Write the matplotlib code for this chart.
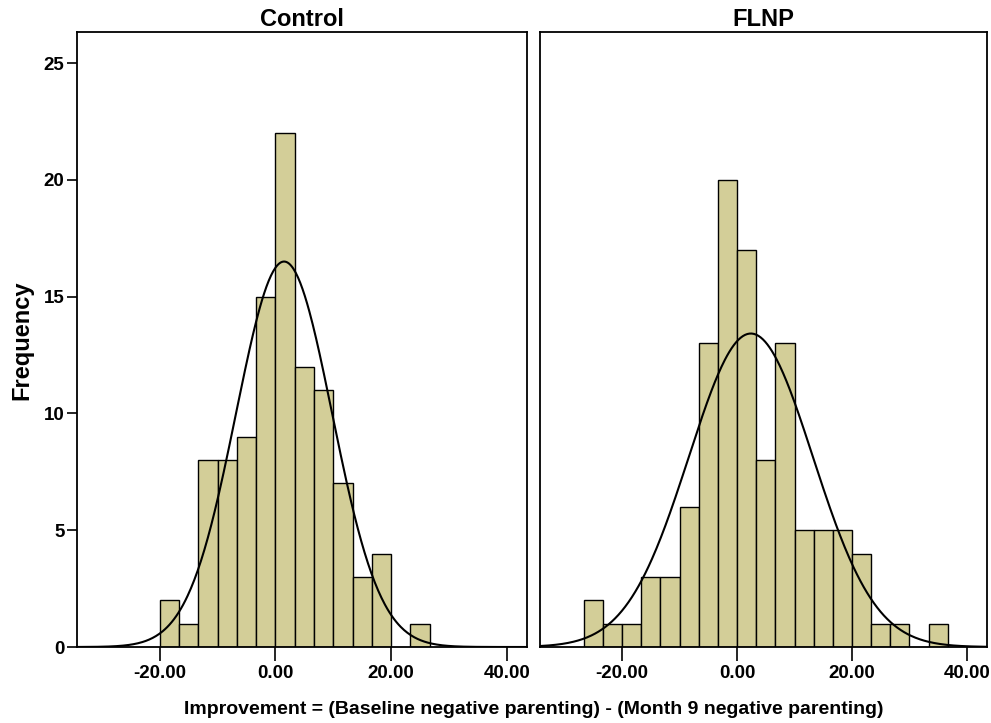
import numpy as np
import matplotlib
matplotlib.use("Agg")
import matplotlib.pyplot as plt

plt.rcParams['font.family'] = ['Liberation Sans', 'DejaVu Sans']
plt.rcParams['font.weight'] = 'bold'

bin_width = 10.0 / 3

# Control group: first bin edge and counts per bin
control_start = -20.0
control_counts = [2, 1, 8, 8, 9, 15, 22, 12, 11, 7, 3, 4, 0, 1]
control_mean = 1.5
control_sd = 8.3

# FLNP group
flnp_start = -80.0 / 3
flnp_counts = [2, 1, 1, 3, 3, 6, 13, 20, 17, 8, 13, 5, 5, 5, 4, 1, 1, 0, 1]
flnp_mean = 2.4
flnp_sd = 10.8

titles = ["Control", "FLNP"]
xticks = [-20, 0, 20, 40]
yticks = [0, 5, 10, 15, 20, 25]
bar_color = "#d3ce98"

fig = plt.figure(figsize=(9.91, 7.23), dpi=100)
W, H = 991, 723
ax1 = fig.add_axes([77 / W, 1 - 647 / H, 450 / W, 615 / H])
ax2 = fig.add_axes([540 / W, 1 - 647 / H, 447 / W, 615 / H])

groups = [(control_start, control_counts, control_mean, control_sd),
          (flnp_start, flnp_counts, flnp_mean, flnp_sd)]

xs = np.linspace(-34.3, 43.5, 400)
for ax, title, (start, counts, mu, sd) in zip([ax1, ax2], titles, groups):
    counts = np.array(counts)
    lefts = start + bin_width * np.arange(len(counts))
    keep = counts > 0
    ax.bar(lefts[keep], counts[keep], width=bin_width, align='edge',
           color=bar_color, edgecolor='black', linewidth=1.0)
    n = counts.sum()
    ys = n * bin_width * np.exp(-0.5 * ((xs - mu) / sd) ** 2) / (sd * np.sqrt(2 * np.pi))
    ax.plot(xs, ys, color='black', linewidth=1.5)
    ax.set_xlim(-34.3, 43.5)
    ax.set_ylim(0, 26.33)
    ax.set_xticks(xticks)
    ax.set_xticklabels(["%.2f" % t for t in xticks], fontsize=13.5, fontweight='bold')
    ax.tick_params(axis='x', direction='out', length=10, width=1.2, pad=3)
    ax.set_title(title, fontsize=17, fontweight='bold', pad=4)
    for s in ax.spines.values():
        s.set_linewidth(1.3)

ax1.set_yticks(yticks)
ax1.set_yticklabels([str(t) for t in yticks], fontsize=13.5, fontweight='bold')
ax1.tick_params(axis='y', direction='out', length=7, width=1.2, pad=2)
ax2.set_yticks([])

fig.text(22 / W, 1 - 340 / H, "Frequency", rotation=90, ha='center', va='center',
         fontsize=17, fontweight='bold')
fig.text(534 / W, 1 - 710 / H, "Improvement = (Baseline negative parenting) - (Month 9 negative parenting)",
         ha='center', va='center', fontsize=14, fontweight='bold')

fig.savefig("out.png", dpi=100)
